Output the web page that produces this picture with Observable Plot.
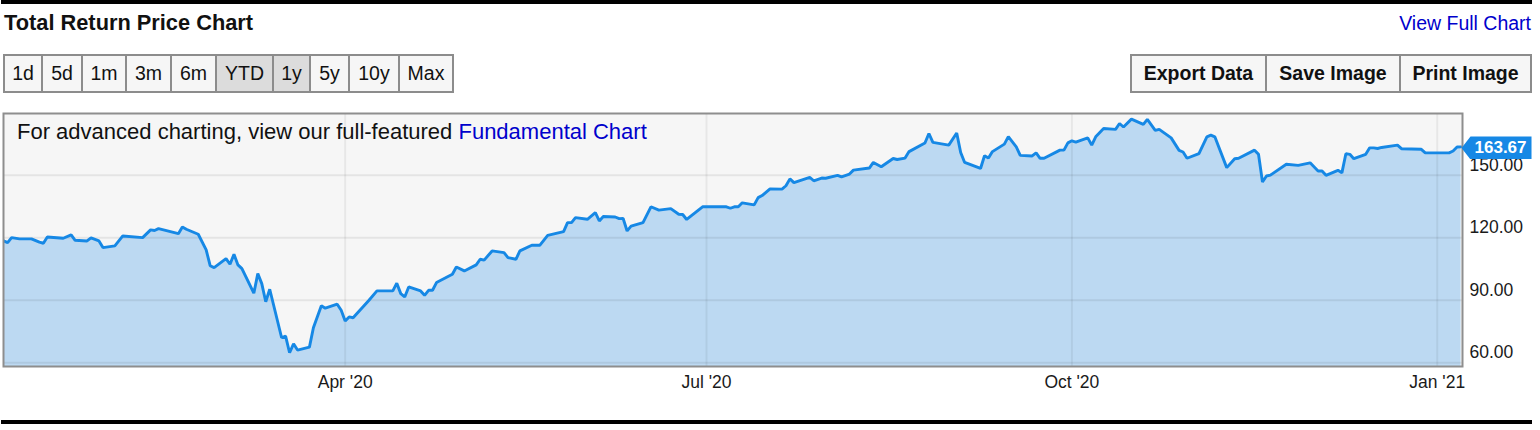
<!DOCTYPE html>
<html><head><meta charset="utf-8">
<script src="https://cdn.jsdelivr.net/npm/d3@7"></script>
<script src="https://cdn.jsdelivr.net/npm/@observablehq/plot@0.6"></script>
<style>
html,body{margin:0;padding:0;background:#fff;width:1540px;height:430px;overflow:hidden;font-family:"Liberation Sans",Arial,Helvetica,sans-serif;color:#111;}
#root{position:relative;width:1540px;height:430px;}
.bar{position:absolute;left:1px;width:1531px;height:4px;background:#000;}
.txt{position:absolute;white-space:nowrap;line-height:1;}
.btn{position:absolute;top:54px;height:39px;box-sizing:border-box;border:2px solid #8c8c8c;background:#f6f6f6;display:flex;align-items:center;justify-content:center;font-size:19.5px;color:#111;}
.btn.sel{background:#dcdcdc;}
.btn.b{font-weight:bold;}
#chart{position:absolute;left:0;top:105px;}
#badge{position:absolute;height:23px;width:70px;background:#1688e5;color:#fff;font-weight:bold;font-size:17px;display:flex;align-items:center;justify-content:flex-end;padding-right:5px;box-sizing:border-box;clip-path:polygon(0 50%,9px 0,100% 0,100% 100%,9px 100%);}
</style></head>
<body><div id="root">
<div class="bar" style="top:0"></div>
<div class="txt" style="left:4px;top:11.6px;font-size:21.8px;font-weight:bold;">Total Return Price Chart</div>
<div class="txt" style="right:9px;top:13.5px;font-size:19.5px;color:#0000cc;">View Full Chart</div>
<div id="btnsL"></div>
<div id="btnsR"></div>
<div id="chart"></div>
<div class="txt" style="left:17px;top:120.7px;font-size:22px;">For advanced charting, view our full-featured <span style="color:#0000cc">Fundamental Chart</span></div>
<div id="badge"></div>
<div class="bar" style="top:420px"></div>
</div>
<script>
// ---- data ----
const dates = [
"2020-01-06","2020-01-07","2020-01-08","2020-01-10","2020-01-13","2020-01-15","2020-01-16","2020-01-17","2020-01-21","2020-01-23",
"2020-01-24","2020-01-27","2020-01-28","2020-01-30","2020-01-31","2020-02-03","2020-02-05","2020-02-10","2020-02-12","2020-02-13",
"2020-02-14","2020-02-19","2020-02-20","2020-02-21","2020-02-24","2020-02-26","2020-02-27","2020-02-28","2020-03-02","2020-03-03",
"2020-03-04","2020-03-05","2020-03-06","2020-03-09","2020-03-10","2020-03-11","2020-03-12","2020-03-13","2020-03-16","2020-03-17",
"2020-03-18","2020-03-19","2020-03-20","2020-03-23","2020-03-24","2020-03-26","2020-03-27","2020-03-30","2020-03-31","2020-04-01",
"2020-04-02","2020-04-03","2020-04-07","2020-04-09","2020-04-13","2020-04-14","2020-04-15","2020-04-16","2020-04-17","2020-04-20",
"2020-04-21","2020-04-22","2020-04-23","2020-04-24","2020-04-28","2020-04-29","2020-05-01","2020-05-04","2020-05-05","2020-05-06",
"2020-05-08","2020-05-11","2020-05-12","2020-05-14","2020-05-15","2020-05-18","2020-05-20","2020-05-22","2020-05-26","2020-05-27",
"2020-05-28","2020-05-29","2020-06-01","2020-06-03","2020-06-04","2020-06-05","2020-06-08","2020-06-09","2020-06-10","2020-06-11",
"2020-06-12","2020-06-15","2020-06-17","2020-06-19","2020-06-22","2020-06-24","2020-06-25","2020-06-26","2020-06-30","2020-07-06",
"2020-07-07","2020-07-08","2020-07-09","2020-07-10","2020-07-13","2020-07-14","2020-07-15","2020-07-17","2020-07-20","2020-07-21",
"2020-07-22","2020-07-23","2020-07-27","2020-07-28","2020-07-30","2020-07-31","2020-08-03","2020-08-04","2020-08-06","2020-08-07",
"2020-08-11","2020-08-12","2020-08-14","2020-08-17","2020-08-18","2020-08-20","2020-08-21","2020-08-25","2020-08-26","2020-08-27",
"2020-08-31","2020-09-02","2020-09-03","2020-09-04","2020-09-08","2020-09-09","2020-09-10","2020-09-11","2020-09-14","2020-09-15",
"2020-09-17","2020-09-18","2020-09-21","2020-09-22","2020-09-23","2020-09-24","2020-09-28","2020-09-29","2020-09-30","2020-10-01",
"2020-10-02","2020-10-05","2020-10-06","2020-10-07","2020-10-09","2020-10-12","2020-10-13","2020-10-14","2020-10-16","2020-10-19",
"2020-10-20","2020-10-22","2020-10-23","2020-10-26","2020-10-28","2020-10-29","2020-10-30","2020-11-02","2020-11-04","2020-11-05",
"2020-11-06","2020-11-09","2020-11-11","2020-11-12","2020-11-16","2020-11-17","2020-11-18","2020-11-19","2020-11-20","2020-11-24",
"2020-11-27","2020-11-30","2020-12-02","2020-12-03","2020-12-04","2020-12-07","2020-12-08","2020-12-09","2020-12-10","2020-12-11",
"2020-12-14","2020-12-15","2020-12-16","2020-12-17","2020-12-18","2020-12-22","2020-12-23","2020-12-28","2020-12-29","2021-01-04",
"2021-01-05","2021-01-06","2021-01-07"
];
const values = [
118.5,117.7,120.1,119.5,119.5,117.9,117.4,120.4,119.8,121.4,
118.8,118.5,120.0,118.5,115.3,116.1,120.9,120.1,123.8,123.5,
124.4,122.0,125.2,124.1,121.7,114.2,106.6,105.7,110.0,107.3,
112.1,107.0,105.2,93.4,102.8,98.0,89.3,95.3,72.0,72.8,
64.8,69.1,66.1,67.5,76.8,87.4,86.2,88.1,85.2,80.0,
82.0,81.6,90.0,94.5,94.5,98.2,93.2,91.6,96.4,94.5,
92.4,94.8,94.8,98.5,102.5,106.0,104.1,107.0,109.7,109.3,
113.7,112.9,110.5,109.7,113.7,116.4,116.4,121.2,123.0,127.3,
127.3,129.7,128.9,132.1,128.1,130.2,130.0,129.2,129.3,123.3,
125.6,127.3,134.9,133.3,134.0,131.3,131.2,128.8,134.9,134.9,
134.2,134.9,134.9,136.8,135.8,139.3,140.3,143.5,143.4,145.0,
148.3,146.5,149.0,147.4,148.7,148.6,150.0,149.3,150.6,152.5,
153.5,156.2,154.1,158.1,157.6,158.3,161.4,165.5,170.1,165.8,
164.5,170.3,161.0,156.2,153.3,159.4,158.3,161.4,165.0,168.6,
163.7,159.6,159.3,160.8,158.2,158.2,162.1,162.1,165.6,166.6,
166.0,168.0,164.5,168.5,172.5,172.1,174.9,173.2,177.0,174.5,
176.9,171.6,172.1,168.0,162.0,161.2,158.2,160.4,168.5,169.3,
168.5,153.7,158.0,158.2,162.1,160.1,146.8,149.7,150.1,155.3,
154.8,156.0,152.1,152.1,150.0,152.4,151.2,160.4,160.1,158.0,
160.1,163.2,163.2,162.9,163.4,164.5,162.8,162.5,160.8,160.8,
161.7,163.6,163.67
];
const xTickDates = ["2020-04-01","2020-07-01","2020-10-01","2021-01-01"];
const xTickLabels = ["Apr '20","Jul '20","Oct '20","Jan '21"];
const yTicks = [60, 90, 120, 150];
const rangeButtons = ["1d","5d","1m","3m","6m","YTD","1y","5y","10y","Max"];
const selectedButtons = ["YTD","1y"];
const actionButtons = ["Export Data","Save Image","Print Image"];

// ---- buttons ----
const leftEdges = [3,41,81,125,170,215,272,309,348,398,452];
const btnsL = document.getElementById("btnsL");
rangeButtons.forEach((t,i)=>{
  const d=document.createElement("div");
  d.className="btn"+(selectedButtons.includes(t)?" sel":"");
  d.style.left=leftEdges[i]+"px"; d.style.width=(leftEdges[i+1]-leftEdges[i]+2)+"px";
  d.textContent=t; btnsL.appendChild(d);
});
const rightEdges = [1130,1265,1399,1530];
const btnsR = document.getElementById("btnsR");
actionButtons.forEach((t,i)=>{
  const d=document.createElement("div");
  d.className="btn b";
  d.style.left=rightEdges[i]+"px"; d.style.width=(rightEdges[i+1]-rightEdges[i]+2)+"px";
  d.textContent=t; btnsR.appendChild(d);
});

// ---- chart ----
const data = dates.map((d,i)=>({date:new Date(d+"T00:00:00Z"), value:values[i]}));
const tickDates = xTickDates.map(d=>new Date(d+"T00:00:00Z"));
const labelMap = new Map(tickDates.map((d,i)=>[+d, xTickLabels[i]]));
const day = 864e5, y0 = Date.UTC(2020,0,1);
const plot = Plot.plot({
  width:1540, height:290,
  marginTop:8, marginBottom:29, marginLeft:3, marginRight:78,
  x:{type:"utc", domain:[new Date(y0+4.96*day), new Date(y0+372.37*day)], label:null},
  y:{domain:[58.2,179.7], label:null},
  style:{fontFamily:'"Liberation Sans",Arial,sans-serif', fontSize:"17.5px", color:"#1a1a1a", background:"transparent", overflow:"visible"},
  marks:[
    Plot.frame({fill:"#f6f6f6"}),
    Plot.areaY(data,{x:"date", y:"value", fill:"#bcd9f2", clip:true}),
    Plot.gridY(yTicks,{stroke:"#000", strokeOpacity:0.07, strokeWidth:2}),
    Plot.gridX(tickDates,{stroke:"#000", strokeOpacity:0.06, strokeWidth:2}),
    Plot.lineY(data,{x:"date", y:"value", stroke:"#1688e5", strokeWidth:2.9, strokeLinejoin:"miter", clip:true}),
    Plot.axisY(yTicks,{anchor:"right", tickSize:0, tickPadding:7, dy:-10, label:null, tickFormat:d=>d.toFixed(2)}),
    Plot.axisX(tickDates,{anchor:"bottom", tickSize:0, tickPadding:9, label:null, tickFormat:d=>labelMap.get(+d)}),
    Plot.frame({stroke:"#8e8e8e", strokeWidth:2})
  ]
});
document.getElementById("chart").appendChild(plot);

// ---- last value badge ----
const last = data[data.length-1];
const bx = plot.scale("x").apply(last.date);
const by = plot.scale("y").apply(last.value) + 105;
const badge = document.getElementById("badge");
badge.textContent = last.value.toFixed(2);
badge.style.left = (bx+1)+"px";
badge.style.top = (by-11.5+1.5)+"px";
</script>
</body></html>
